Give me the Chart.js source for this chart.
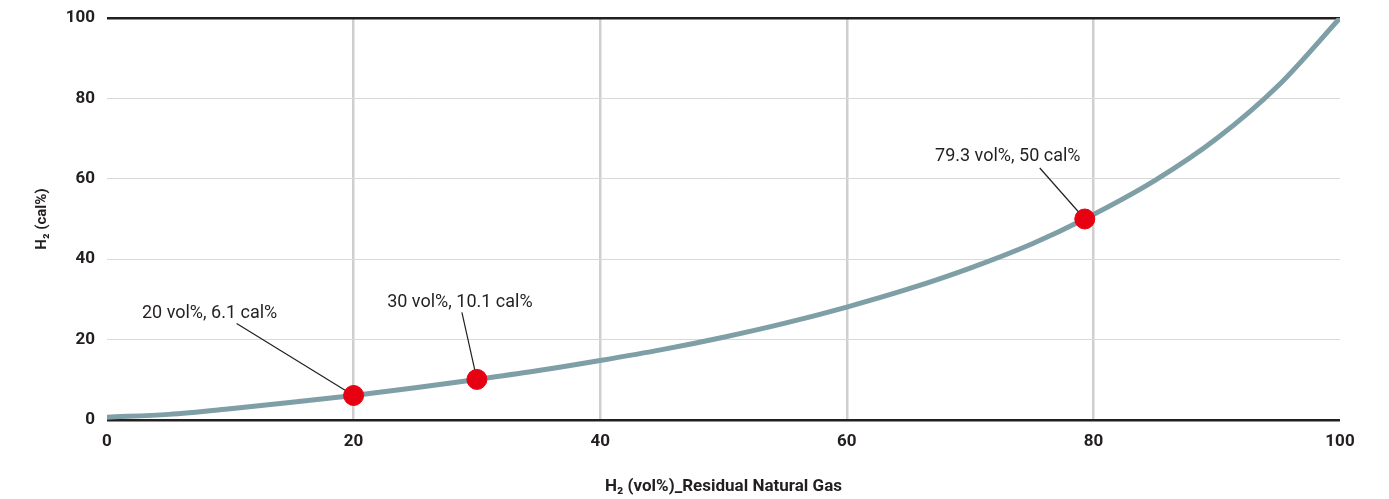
<!DOCTYPE html>
<html>
<head>
<meta charset="utf-8">
<script src="https://cdn.jsdelivr.net/npm/chart.js@4.4.1/dist/chart.umd.min.js"></script>
<style>
  html, body { margin: 0; padding: 0; background: #fff; }
  #wrap { width: 1389px; height: 499px; }
</style>
</head>
<body>
<div id="wrap"><canvas id="grafico"></canvas></div>
<script>
// H2 vol% (x) vs H2 cal% (y)
const volPct = [0, 5, 10, 15, 20, 25, 30, 35, 40, 45, 50, 55, 60, 65, 70, 75, 79.3, 85, 90, 95, 100];
const calPct = [0.7, 1.4, 2.8, 4.4, 6.1, 8.0, 10.1, 12.3, 14.8, 17.5, 20.6, 24.1, 28.1, 32.6, 37.8, 43.8, 50, 59.6, 70.0, 83.2, 100];

const markX = [20, 30, 79.3];
const markY = [6.1, 10.1, 50];
const markLabels = ['20 vol%, 6.1 cal%', '30 vol%, 10.1 cal%', '79.3 vol%, 50 cal%'];

const xTicks = [0, 20, 40, 60, 80, 100];
const yTicks = [0, 20, 40, 60, 80, 100];

const textColor = '#231f20';

// leader line + label, offsets in px from the marker
const callouts = [
    { line: [-117, -72], text: [-144, -82] },
    { line: [-15, -67], text: [-17, -77] },
    { line: [-45, -51], text: [-77, -63] }
];

const calloutPlugin = {
    id: 'callouts',
    beforeDatasetsDraw(chart) {
        const ctx = chart.ctx;
        const xs = chart.scales.x;
        const ys = chart.scales.y;
        ctx.save();
        markX.forEach((v, i) => {
            const px = xs.getPixelForValue(v);
            const py = ys.getPixelForValue(markY[i]);
            const c = callouts[i];
            ctx.strokeStyle = textColor;
            ctx.lineWidth = 1.2;
            ctx.beginPath();
            ctx.moveTo(px + c.line[0], py + c.line[1]);
            ctx.lineTo(px, py);
            ctx.stroke();
            ctx.fillStyle = textColor;
            ctx.font = '18px Roboto';
            ctx.textAlign = 'center';
            ctx.textBaseline = 'middle';
            ctx.fillText(markLabels[i], px + c.text[0], py + c.text[1]);
        });
        ctx.restore();
    }
};

window.onload = function () {
    const ctx = document.getElementById('grafico').getContext('2d');

    new Chart(ctx, {
        type: 'scatter',
        data: {
            datasets: [
                {
                    label: 'marks',
                    data: markX.map((x, i) => ({ x: x, y: markY[i] })),
                    backgroundColor: '#e60012',
                    borderColor: '#e60012',
                    pointRadius: 10,
                    pointHoverRadius: 10,
                    showLine: false,
                    order: 0
                },
                {
                    label: 'H2',
                    data: volPct.map((x, i) => ({ x: x, y: calPct[i] })),
                    borderColor: '#7f9fa6',
                    borderWidth: 5,
                    pointRadius: 0,
                    showLine: true,
                    cubicInterpolationMode: 'monotone',
                    order: 1
                }
            ]
        },
        options: {
            responsive: true,
            maintainAspectRatio: false,
            animation: false,
            layout: { padding: { top: 18, right: 49, left: 0, bottom: 0 } },
            plugins: {
                legend: { display: false },
                tooltip: { enabled: false }
            },
            scales: {
                x: {
                    type: 'linear',
                    min: 0,
                    max: 100,
                    afterBuildTicks: s => { s.ticks = xTicks.map(v => ({ value: v })); },
                    afterFit: s => { s.height = 79; s.paddingLeft = 0; s.paddingRight = 0; },
                    border: { display: false },
                    grid: {
                        drawTicks: false,
                        color: c => (c.tick.value === 0 || c.tick.value === 100) ? 'rgba(0,0,0,0)' : '#cfcfcf',
                        lineWidth: 2.5
                    },
                    ticks: {
                        padding: 12,
                        color: textColor,
                        font: { family: 'Roboto', size: 17, weight: 'bold' }
                    },
                    title: {
                        display: true,
                        text: 'H₂ (vol%)_Residual Natural Gas',
                        color: textColor,
                        font: { family: 'Roboto', size: 17, weight: 'bold' },
                        padding: { top: 0, bottom: 2 }
                    }
                },
                y: {
                    min: 0,
                    max: 100,
                    afterBuildTicks: s => { s.ticks = yTicks.map(v => ({ value: v })); },
                    afterFit: s => { s.width = 107; s.paddingTop = 0; s.paddingBottom = 0; },
                    border: { display: false },
                    grid: {
                        drawTicks: false,
                        color: c => (c.tick.value === 0 || c.tick.value === 100) ? textColor : '#d9d9d9',
                        lineWidth: c => (c.tick.value === 0 || c.tick.value === 100) ? 2.5 : 1
                    },
                    ticks: {
                        padding: 12,
                        color: textColor,
                        font: { family: 'Roboto', size: 17, weight: 'bold' }
                    },
                    title: {
                        display: true,
                        text: 'H₂ (cal%)',
                        color: textColor,
                        font: { family: 'Roboto', size: 15, weight: 'bold' },
                        padding: { top: 33, bottom: 0 }
                    }
                }
            }
        },
        plugins: [calloutPlugin]
    });
};
</script>
</body>
</html>
